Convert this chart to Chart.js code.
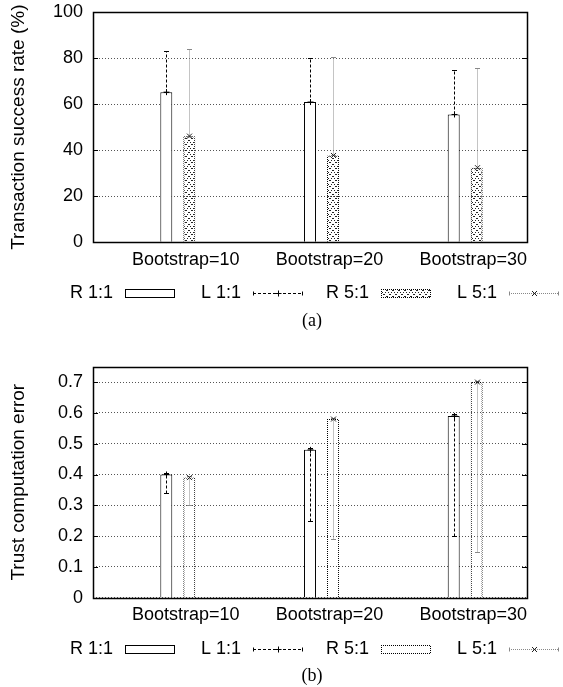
<!DOCTYPE html>
<html>
<head>
<meta charset="utf-8">
<script src="https://cdn.jsdelivr.net/npm/chart.js@4.4.1/dist/chart.umd.min.js"></script>
<style>
  html, body { margin: 0; padding: 0; background: #fff; }
  canvas { display: block; }
</style>
</head>
<body>
<canvas id="graficoA" width="563" height="340"></canvas>
<canvas id="graficoB" width="563" height="347"></canvas>
<script>
const grupos = ['Bootstrap=10', 'Bootstrap=20', 'Bootstrap=30'];
const posGrupos = [1, 2, 3];
const legendas = ['R 1:1', 'L 1:1', 'R 5:1', 'L 5:1'];

// (a) taxa de sucesso das transações (%)
const ticksA = [0, 20, 40, 60, 80, 100];
const taxaR11 = [65.2, 60.9, 55.5];
const taxaL11Max = [83.1, 80.1, 75.0];
const taxaR51 = [46.1, 37.7, 32.4];
const taxaL51Max = [83.9, 80.5, 75.9];

// (b) erro no cálculo da confiança
const ticksB = [0, 0.1, 0.2, 0.3, 0.4, 0.5, 0.6, 0.7];
const erroR11 = [0.40, 0.48, 0.59];
const erroL11Min = [0.34, 0.25, 0.20];
const erroL11Max = [0.405, 0.485, 0.597];
const erroR51 = [0.39, 0.58, 0.70];
const erroL51Min = [0.30, 0.19, 0.15];
const erroL51Max = [0.395, 0.585, 0.705];

Chart.defaults.font.family = '"Liberation Sans", Arial, sans-serif';
Chart.defaults.font.size = 18;
Chart.defaults.color = '#000';

function padrao(tam, pontos, cor) {
    const c = document.createElement('canvas');
    c.width = tam; c.height = tam;
    const g = c.getContext('2d');
    g.fillStyle = cor;
    pontos.forEach(p => g.fillRect(p[0], p[1], 1, 1));
    return g.createPattern(c, 'repeat');
}
const bordaPontilhada = padrao(2, [[0, 0], [1, 1]], '#000');
const hachura = padrao(6, [[0, 0], [2, 2], [4, 4], [5, 0], [3, 2], [1, 4]], '#222');

function marca(ctx, tipo, x, y) {
    ctx.setLineDash([]);
    ctx.beginPath();
    if (tipo === '+') {
        ctx.moveTo(x - 3, y); ctx.lineTo(x + 3, y);
        ctx.moveTo(x, y - 3); ctx.lineTo(x, y + 3);
    } else {
        ctx.moveTo(x - 2.5, y - 2.5); ctx.lineTo(x + 2.5, y + 2.5);
        ctx.moveTo(x + 2.5, y - 2.5); ctx.lineTo(x - 2.5, y + 2.5);
    }
    ctx.stroke();
}

const pluginFigura = {
    id: 'figura',
    afterDatasetsDraw(chart) {
        const ctx = chart.ctx, y = chart.scales.y, a = chart.chartArea;
        // barras de erro (séries L)
        chart.data.datasets.forEach((ds, d) => {
            const e = ds.erro;
            chart.getDatasetMeta(d).data.forEach((barra, i) => {
                const x = Math.round(barra.x) + 0.5;
                const yMin = Math.round(y.getPixelForValue(e.min[i])) + 0.5;
                const yMax = Math.round(y.getPixelForValue(e.max[i])) + 0.5;
                const yVal = y.getPixelForValue(ds.data[i].y);
                ctx.save();
                ctx.lineWidth = 1;
                ctx.strokeStyle = e.cor;
                ctx.setLineDash(e.traco);
                ctx.beginPath(); ctx.moveTo(x, yMin); ctx.lineTo(x, yMax); ctx.stroke();
                ctx.setLineDash([]);
                ctx.beginPath();
                ctx.moveTo(x - 2.5, yMin); ctx.lineTo(x + 2.5, yMin);
                ctx.moveTo(x - 2.5, yMax); ctx.lineTo(x + 2.5, yMax);
                ctx.stroke();
                ctx.strokeStyle = e.corMarca;
                marca(ctx, e.marca, x, yVal);
                ctx.restore();
            });
        });
        // moldura e tiques internos
        ctx.save();
        ctx.strokeStyle = '#000';
        ctx.lineWidth = 1;
        ctx.setLineDash([]);
        ctx.beginPath();
        y.ticks.forEach(t => {
            const py = Math.round(y.getPixelForValue(t.value)) + 0.5;
            ctx.moveTo(a.left, py); ctx.lineTo(a.left + 5, py);
            ctx.moveTo(a.right - 5, py); ctx.lineTo(a.right, py);
        });
        ctx.stroke();
        ctx.lineWidth = 1.5;
        ctx.strokeRect(Math.round(a.left) + 0.5, Math.round(a.top) + 0.5,
            Math.round(a.right - a.left), Math.round(a.bottom - a.top));
        ctx.restore();
    },
    afterDraw(chart) {
        const ctx = chart.ctx, a = chart.chartArea;
        const dsR11 = chart.data.datasets[0], dsR51 = chart.data.datasets[1];
        const yl = Math.round(a.bottom + 51) + 0.5;
        ctx.save();
        ctx.font = '18px "Liberation Sans", Arial, sans-serif';
        ctx.fillStyle = '#000';
        ctx.textAlign = 'right';
        ctx.textBaseline = 'middle';
        legendas.forEach((txt, i) => {
            const sx = Math.round(a.left) + 32 + 128 * i;
            ctx.fillStyle = '#000';
            ctx.fillText(txt, sx - 12, yl);
            if (i === 0 || i === 2) {
                const ds = i === 0 ? dsR11 : dsR51;
                ctx.fillStyle = ds.borderColor;
                ctx.fillRect(sx, yl - 4.5, 50, 9);
                ctx.fillStyle = '#fff';
                ctx.fillRect(sx + 1, yl - 3.5, 48, 7);
                ctx.fillStyle = ds.backgroundColor;
                ctx.fillRect(sx + 1, yl - 3.5, 48, 7);
            } else {
                const e = (i === 1 ? dsR11 : dsR51).erro;
                ctx.strokeStyle = e.cor;
                ctx.lineWidth = 1;
                ctx.setLineDash(e.traco);
                ctx.beginPath(); ctx.moveTo(sx, yl); ctx.lineTo(sx + 50, yl); ctx.stroke();
                ctx.setLineDash([]);
                ctx.beginPath();
                ctx.moveTo(sx + 0.5, yl - 2); ctx.lineTo(sx + 0.5, yl + 2);
                ctx.moveTo(sx + 49.5, yl - 2); ctx.lineTo(sx + 49.5, yl + 2);
                ctx.stroke();
                ctx.strokeStyle = e.corMarca;
                marca(ctx, e.marca, sx + 25.5, yl);
            }
        });
        ctx.font = '18px "Liberation Serif", "Times New Roman", serif';
        ctx.textAlign = 'center';
        ctx.fillStyle = '#000';
        ctx.fillText(chart.options.legenda, (a.left + a.right) / 2 + 2, a.bottom + 79);
        ctx.restore();
    }
};

function criarPainel(canvas, p) {
    return new Chart(canvas, {
        type: 'bar',
        data: {
            datasets: [{
                label: legendas[0],
                data: posGrupos.map((x, i) => ({ x: x, y: p.r11[i] })),
                backgroundColor: '#fff',
                borderColor: '#000',
                borderWidth: 1,
                erro: { min: p.l11Min, max: p.l11Max, cor: '#000', traco: [3, 2], marca: '+', corMarca: '#000' }
            }, {
                label: legendas[2],
                data: posGrupos.map((x, i) => ({ x: x, y: p.r51[i] })),
                backgroundColor: p.fundo51,
                borderColor: bordaPontilhada,
                borderWidth: 1,
                erro: { min: p.l51Min, max: p.l51Max, cor: '#888', traco: [1, 1], marca: 'x', corMarca: '#222' }
            }]
        },
        options: {
            responsive: false,
            animation: false,
            devicePixelRatio: 1,
            legenda: p.legenda,
            categoryPercentage: 0.32,
            barPercentage: 0.52,
            layout: { padding: p.padding },
            plugins: { legend: { display: false }, tooltip: { enabled: false } },
            scales: {
                x: {
                    type: 'linear',
                    min: 0.41,
                    max: 3.43,
                    offset: false,
                    afterBuildTicks: s => { s.ticks = posGrupos.map(v => ({ value: v })); },
                    afterFit: s => { s.height = 40; s.paddingLeft = 0; s.paddingRight = 0; },
                    ticks: {
                        callback: (v, i) => grupos[i],
                        autoSkip: false,
                        maxRotation: 0,
                        labelOffset: 8,
                        padding: -1
                    },
                    grid: { display: false },
                    border: { display: false }
                },
                y: {
                    min: 0,
                    max: p.yMax,
                    afterBuildTicks: s => { s.ticks = p.ticks.map(v => ({ value: v })); },
                    afterFit: s => { s.width = 93; s.paddingTop = 0; s.paddingBottom = 0; },
                    ticks: { padding: 10, callback: v => String(v) },
                    grid: { color: '#555', lineWidth: 1, drawTicks: false },
                    border: { display: false, dash: [1, 2] },
                    title: {
                        display: true,
                        text: p.titulo,
                        font: { size: 19 },
                        padding: { top: 7.6, bottom: 0 }
                    }
                }
            }
        },
        plugins: [pluginFigura]
    });
}

const GRAF_A = criarPainel(document.getElementById('graficoA'), {
    r11: taxaR11, l11Min: taxaR11, l11Max: taxaL11Max,
    r51: taxaR51, l51Min: taxaR51, l51Max: taxaL51Max,
    fundo51: hachura,
    ticks: ticksA, yMax: 100,
    titulo: 'Transaction success rate (%)',
    legenda: '(a)',
    padding: { left: 0, right: 36, top: 12, bottom: 57.7 }
});

const GRAF_B = criarPainel(document.getElementById('graficoB'), {
    r11: erroR11, l11Min: erroL11Min, l11Max: erroL11Max,
    r51: erroR51, l51Min: erroL51Min, l51Max: erroL51Max,
    fundo51: 'rgba(255,255,255,0)',
    ticks: ticksB, yMax: 0.75,
    titulo: 'Trust computation error',
    legenda: '(b)',
    padding: { left: 0, right: 36, top: 26.7, bottom: 49.3 }
});
</script>
</body>
</html>
